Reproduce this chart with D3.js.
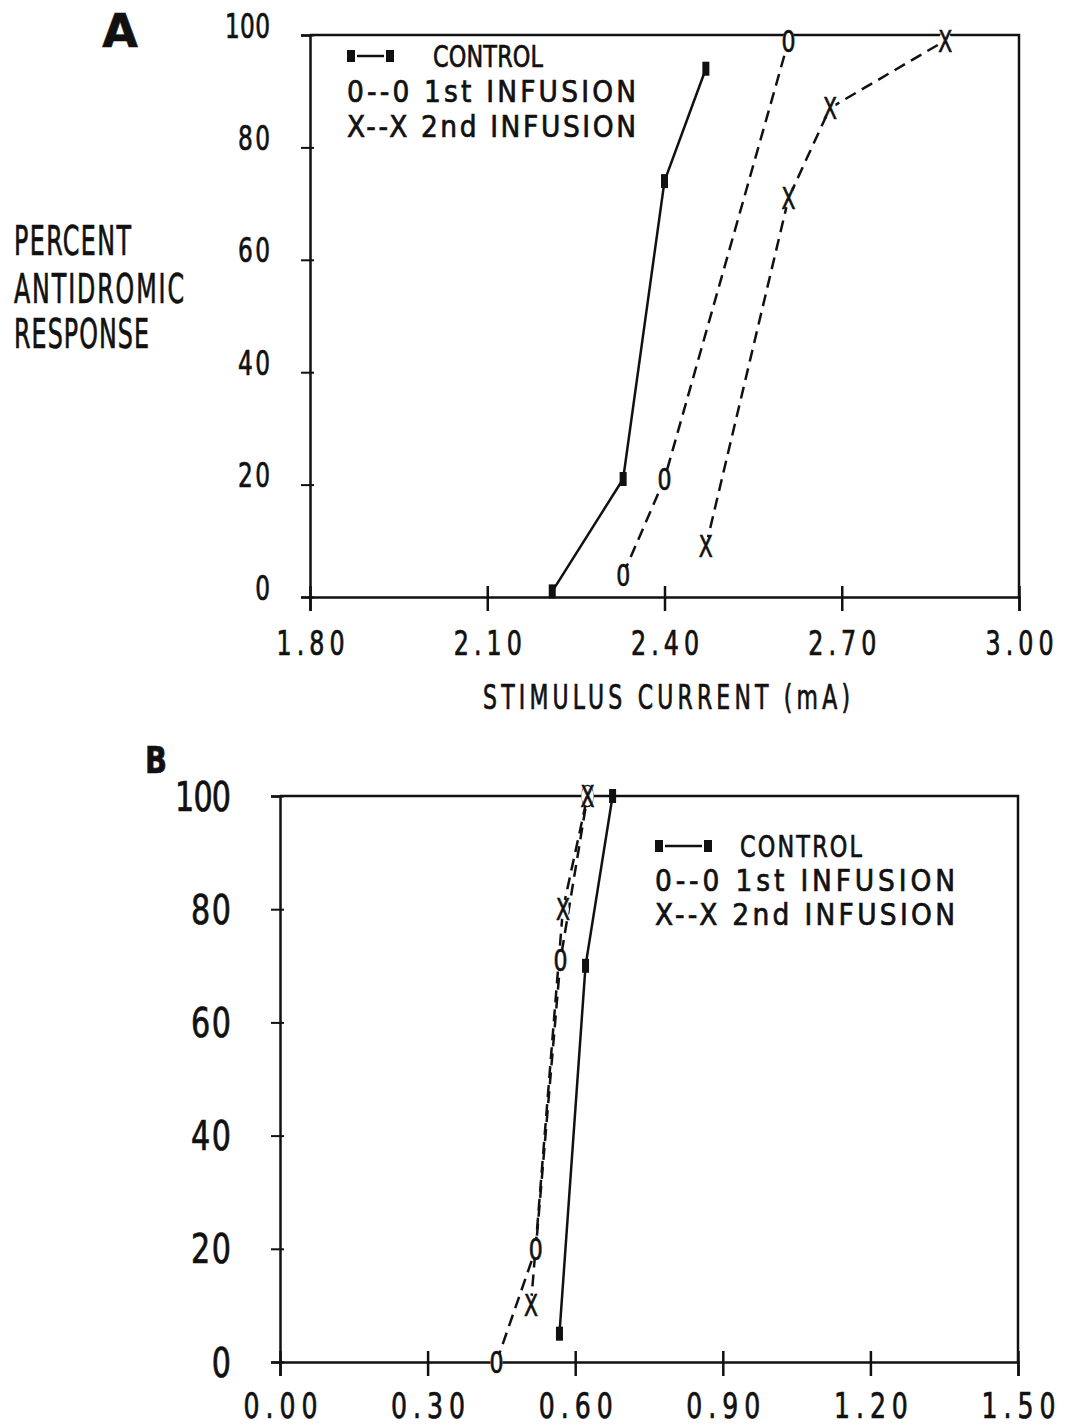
<!DOCTYPE html>
<html lang="en">
<head>
<meta charset="UTF-8">
<title>Antidromic response</title>
<script src="https://d3js.org/d3.v7.min.js"></script>
<style>
    body { margin: 0; background: #fff; }
    svg text { font-family: 'DejaVu Sans Condensed', 'DejaVu Sans', sans-serif; fill: #111; stroke: #111; stroke-width: 0.7px; }
</style>
</head>
<body>
<script>
    // values: [current mA, percent]
    var xTicksA = [1.80, 2.10, 2.40, 2.70, 3.00];
    var xTicksB = [0.00, 0.30, 0.60, 0.90, 1.20, 1.50];
    var yTicks = [0, 20, 40, 60, 80, 100];

    var controlA = [[2.21, 1], [2.33, 21], [2.40, 74], [2.47, 94]];
    var inf1A = [[2.33, 4], [2.40, 21], [2.61, 99]];
    var inf2A = [[2.47, 9], [2.61, 71], [2.68, 87], [2.875, 99]];

    var controlB = [[0.568, 5], [0.621, 70], [0.676, 100]];
    var inf1B = [[0.44, 0], [0.52, 20], [0.57, 71], [0.625, 100]];
    var inf2B = [[0.51, 10], [0.575, 80], [0.625, 100]];

    var legendLabels = ['CONTROL', '0--0 1st INFUSION', 'X--X 2nd INFUSION'];
    var yTitle = ['PERCENT', 'ANTIDROMIC', 'RESPONSE'];
    var xTitle = 'STIMULUS CURRENT (mA)';

    var width = 1068, height = 1428;
    var svg = d3.select('body').append('svg')
        .attr('width', width)
        .attr('height', height);

    // the plotter lettering is narrow; squeeze glyphs by s and spread to width w
    function squeeze(t, x, y, size, w, s) {
        s = s || 0.8;
        t.attr('x', 0).attr('y', 0).attr('dy', 0)
            .attr('transform', 'translate(' + x + ',' + y + ') scale(' + s + ',1)')
            .style('font-size', size + 'px');
        if (w) t.attr('textLength', w / s).attr('lengthAdjust', 'spacing');
        return t;
    }

    function label(parent, x, y, txt, size, w, s, anchor) {
        var t = parent.append('text').attr('text-anchor', anchor || 'start').text(txt);
        return squeeze(t, x, y, size, w, s);
    }

    function panel(o) {
        var x = d3.scaleLinear().domain(o.xDomain).range(o.xRange);
        var y = d3.scaleLinear().domain([0, 100]).range(o.yRange);
        var g = svg.append('g');

        g.append('path')
            .attr('d', 'M' + o.xRange[0] + ',' + o.yRange[1] + 'H' + o.xRange[1] + 'V' + o.yRange[0])
            .attr('fill', 'none').attr('stroke', '#111').attr('stroke-width', 2.5);

        var yAxis = d3.axisLeft(y).tickValues(yTicks).tickSizeOuter(0).tickSize(9).tickFormat(d3.format('d'));
        var gy = g.append('g').attr('transform', 'translate(' + o.xRange[0] + ',0)').call(yAxis);
        gy.selectAll('.tick line').attr('x1', 4).attr('stroke-width', 2);
        gy.selectAll('.tick text').each(function (d) {
            squeeze(d3.select(this), o.yLabelX - o.xRange[0], o.yLabelDy, o.yFont, o.yWidths[String(d).length - 1], o.yS);
        });

        var xAxis = d3.axisBottom(x).tickValues(o.xTicks).tickSizeOuter(0).tickSize(14).tickFormat(d3.format('.2f'));
        var gx = g.append('g').attr('transform', 'translate(0,' + o.yRange[0] + ')').call(xAxis);
        gx.selectAll('.tick line').attr('y1', -11).attr('stroke-width', 2.5);
        gx.selectAll('.tick text').each(function () {
            squeeze(d3.select(this), 0, o.xLabelDy, o.xFont, o.xLabelW, o.xS);
        });
        g.selectAll('.domain').attr('stroke', '#111').attr('stroke-width', 2.5);
        g.selectAll('.tick line').attr('stroke', '#111');
        g.selectAll('.tick text').attr('fill', '#111');

        var line = d3.line().x(function (d) { return x(d[0]); }).y(function (d) { return y(d[1]); });

        g.append('path').datum(o.control).attr('d', line)
            .attr('fill', 'none').attr('stroke', '#111').attr('stroke-width', 2.5);
        [o.inf1, o.inf2].forEach(function (s) {
            g.append('path').datum(s).attr('d', line)
                .attr('fill', 'none').attr('stroke', '#111').attr('stroke-width', 2.5)
                .attr('stroke-dasharray', '12,7');
        });

        g.selectAll(null).data(o.control).enter().append('rect')
            .attr('x', function (d) { return x(d[0]) - 3.5; })
            .attr('y', function (d) { return y(d[1]) - 7; })
            .attr('width', 7).attr('height', 14).attr('fill', '#111');

        // "0" and "X" plotted as characters, lines stop at their edge
        function glyphs(data, ch) {
            g.selectAll(null).data(data).enter().append('ellipse')
                .attr('cx', function (d) { return x(d[0]); })
                .attr('cy', function (d) { return y(d[1]); })
                .attr('rx', 6).attr('ry', 10).attr('fill', '#fff');
            g.selectAll(null).data(data).enter().append('text')
                .attr('x', function (d) { return x(d[0]) - 7; })
                .attr('y', function (d) { return y(d[1]) + 11; })
                .style('font-size', '30px')
                .attr('textLength', 14).attr('lengthAdjust', 'spacingAndGlyphs')
                .text(ch);
        }
        glyphs(o.inf1, '0');
        glyphs(o.inf2, 'X');

        // legend
        var L = o.legend;
        var lg = g.append('g');
        var sy = L.base[0] - 11;
        lg.append('rect').attr('x', L.sym[0]).attr('y', sy - 6).attr('width', 8).attr('height', 12).attr('fill', '#111');
        lg.append('line').attr('x1', L.sym[0] + 10).attr('x2', L.sym[1] - 10).attr('y1', sy).attr('y2', sy)
            .attr('stroke', '#111').attr('stroke-width', 2.5);
        lg.append('rect').attr('x', L.sym[1] - 8).attr('y', sy - 6).attr('width', 8).attr('height', 12).attr('fill', '#111');
        label(lg, L.ctlX, L.base[0], legendLabels[0], 31, L.ctlW, 0.8);
        label(lg, L.sym[0], L.base[1], legendLabels[1], 31, L.rowW, 0.95);
        label(lg, L.sym[0], L.base[2], legendLabels[2], 31, L.rowW, 0.95);
    }

    panel({
        xDomain: [1.8, 3.0], xRange: [310, 1019], yRange: [597, 35],
        xTicks: xTicksA, xLabelDy: 58, xFont: 33, xLabelW: 68, xS: 0.8,
        yLabelX: 270, yLabelDy: 2, yFont: 34, yWidths: [18, 32, 45], yS: 0.76,
        control: controlA, inf1: inf1A, inf2: inf2A,
        legend: { sym: [347, 394], ctlX: 433, ctlW: 110, rowW: 289, base: [67, 102, 137] }
    });

    panel({
        xDomain: [0, 1.5], xRange: [280, 1018], yRange: [1362, 796],
        xTicks: xTicksB, xLabelDy: 56, xFont: 35, xLabelW: 74, xS: 0.8,
        yLabelX: 231, yLabelDy: 14, yFont: 40, yWidths: [19, 40, 56], yS: 0.84,
        control: controlB, inf1: inf1B, inf2: inf2B,
        legend: { sym: [655, 712], ctlX: 740, ctlW: 122, rowW: 300, base: [857, 891, 925] }
    });

    // panel letters and axis titles
    svg.append('text').attr('x', 120).attr('y', 47).attr('text-anchor', 'middle')
        .style('font-family', 'DejaVu Sans').style('font-weight', 'bold').style('font-size', '46px').text('A');
    svg.append('text').attr('x', 145).attr('y', 773)
        .style('font-weight', 'bold').style('font-size', '38px')
        .attr('textLength', 22).attr('lengthAdjust', 'spacingAndGlyphs').text('B');

    var yt = [[255, 117], [303, 170], [348, 135]];
    yTitle.forEach(function (t, i) {
        label(svg, 14, yt[i][0], t, 40, yt[i][1], 0.66);
    });

    label(svg, 483, 709, xTitle, 33, 367, 0.74);
</script>
</body>
</html>
